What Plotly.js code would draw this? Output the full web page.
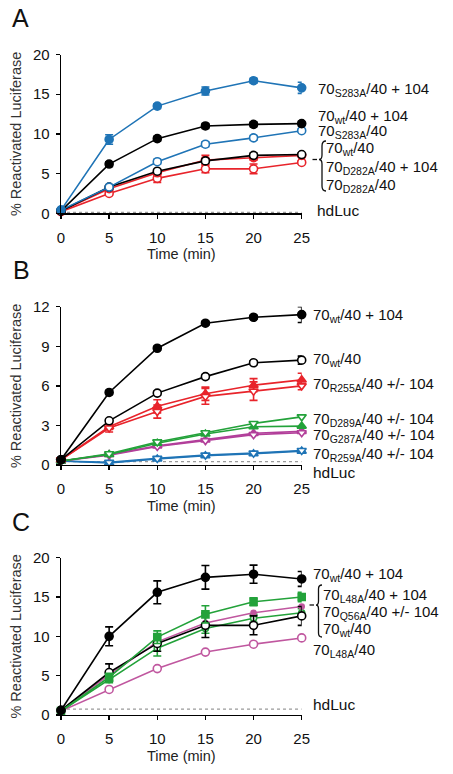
<!DOCTYPE html>
<html>
<head>
<meta charset="utf-8">
<script src="https://cdn.plot.ly/plotly-3.0.1.min.js"></script>
<style>html,body{margin:0;padding:0;background:#fff;}#chart{width:453px;height:774px;}</style>
</head>
<body>
<div id="chart"></div>
<script>
// ---------- data ----------
const time = [0, 5, 10, 15, 20, 25];

// Panel A
const A_s283a_104 = [0.4, 9.3, 13.5, 15.4, 16.7, 15.8];
const A_s283a_104_err = [0.2, 0.6, 0.3, 0.5, 0.3, 0.7];
const A_wt_104 = [0.3, 6.2, 9.4, 11.0, 11.2, 11.3];
const A_wt_104_err = [0.1, 0.3, 0.3, 0.3, 0.3, 0.3];
const A_s283a = [0.4, 3.3, 6.5, 8.7, 9.5, 10.4];
const A_s283a_err = [0.1, 0.2, 0.3, 0.3, 0.3, 0.2];
const A_wt = [0.3, 3.3, 5.3, 6.6, 7.3, 7.4];
const A_wt_err = [0.1, 0.2, 0.2, 0.3, 0.3, 0.2];
const A_d282a_104 = [0.3, 3.1, 5.1, 6.7, 7.0, 7.3];
const A_d282a_104_err = [0.1, 0.2, 0.3, 0.6, 0.3, 0.2];
const A_d282a = [0.2, 2.5, 4.4, 5.6, 5.6, 6.4];
const A_d282a_err = [0.1, 0.2, 0.5, 0.5, 0.6, 0.2];
const A_hdluc = [0.1, 0.1, 0.1, 0.1, 0.1, 0.1];

// Panel B
const B_wt_104 = [0.4, 5.5, 8.85, 10.75, 11.2, 11.4];
const B_wt_104_err = [0.1, 0.15, 0.15, 0.15, 0.15, 0.6];
const B_wt = [0.4, 3.35, 5.45, 6.7, 7.75, 7.95];
const B_wt_err = [0.1, 0.15, 0.15, 0.15, 0.15, 0.3];
const B_r255a_104 = [0.4, 2.9, 4.45, 5.4, 6.05, 6.45];
const B_r255a_104_err = [0.1, 0.2, 0.5, 0.5, 0.5, 0.5];
const B_r255a = [0.4, 2.8, 4.05, 5.2, 5.6, 6.0];
const B_r255a_err = [0.1, 0.3, 0.5, 0.6, 0.7, 0.3];
const B_d289a_104 = [0.3, 0.8, 1.65, 2.35, 2.9, 2.95];
const B_d289a = [0.3, 0.85, 1.75, 2.45, 3.15, 3.65];
const B_g287a_104 = [0.3, 0.8, 1.45, 1.9, 2.4, 2.55];
const B_g287a = [0.3, 0.75, 1.4, 1.85, 2.3, 2.45];
const B_r259a_104 = [0.3, 0.15, 0.45, 0.7, 0.85, 1.05];
const B_r259a = [0.3, 0.2, 0.5, 0.75, 0.9, 1.1];
const B_hdluc = [0.25, 0.25, 0.25, 0.25, 0.25, 0.25];

// Panel C
const C_wt_104 = [0.6, 10.0, 15.6, 17.5, 17.9, 17.3];
const C_wt_104_err = [0.2, 1.2, 1.45, 1.5, 1.15, 0.95];
const C_l48a_104 = [0.5, 4.8, 9.9, 12.8, 14.4, 15.0];
const C_l48a_104_err = [0.2, 0.5, 0.8, 1.1, 0.5, 0.6];
const C_q56a_104 = [0.6, 5.1, 9.3, 11.7, 13.0, 13.8];
const C_q56a = [0.5, 4.5, 8.5, 11.0, 12.3, 13.0];
const C_q56a_err = [0.2, 0.4, 1.0, 0.6, 0.5, 0.5];
const C_wt = [0.6, 5.4, 9.1, 11.4, 11.4, 12.6];
const C_wt_err = [0.2, 1.1, 1.0, 1.55, 1.2, 1.2];
const C_l48a = [0.5, 3.25, 5.9, 8.0, 9.0, 9.8];
const C_hdluc = [0.75, 0.75, 0.75, 0.75, 0.75, 0.75];

const xTicks = [0, 5, 10, 15, 20, 25];
const yTicksAC = [0, 5, 10, 15, 20];
const yTicksB = [0, 3, 6, 9, 12];

// ---------- styles ----------
const W = 453, H = 774;
const px = x => x / W;
const py = y => 1 - y / H;
const BLUE = '#1f74b6', RED = '#e8242b', GREEN = '#23a23a', MAG = '#b23f9a', MAGC = '#c0579f', BLACK = '#000000', GRAY = '#9a9a9a';
const FONT = 'Liberation Sans, Arial, sans-serif';

function tr(xa, ya, y, color, symbol, filled, err, size) {
  const t = {
    x: time, y: y, xaxis: xa, yaxis: ya, type: 'scatter', mode: 'lines+markers',
    cliponaxis: false, showlegend: false,
    line: {color: color, width: 1.6},
    marker: {symbol: symbol, size: size || 8, color: filled ? color : '#ffffff',
             line: {color: color, width: 1.6}}
  };
  if (err) t.error_y = {type: 'data', array: err, visible: true, color: color, thickness: 1.6, width: 4};
  return t;
}
function hd(xa, ya, y) {
  return {x: time, y: y, xaxis: xa, yaxis: ya, type: 'scatter', mode: 'lines', cliponaxis: false,
          showlegend: false, line: {color: GRAY, width: 1.3, dash: 'dot'}};
}

const data = [
  // A
  hd('x', 'y', A_hdluc),
  tr('x', 'y', A_d282a, RED, 'circle', false, A_d282a_err),
  tr('x', 'y', A_d282a_104, RED, 'circle', true, A_d282a_104_err),
  tr('x', 'y', A_wt, BLACK, 'circle', false, A_wt_err),
  tr('x', 'y', A_s283a, BLUE, 'circle', false, A_s283a_err),
  tr('x', 'y', A_wt_104, BLACK, 'circle', true, A_wt_104_err),
  tr('x', 'y', A_s283a_104, BLUE, 'circle', true, A_s283a_104_err),
  // B
  hd('x2', 'y2', B_hdluc),
  tr('x2', 'y2', B_r259a_104, BLUE, 'triangle-up', true),
  tr('x2', 'y2', B_r259a, BLUE, 'triangle-down', false),
  tr('x2', 'y2', B_g287a_104, MAG, 'triangle-up', true),
  tr('x2', 'y2', B_g287a, MAG, 'triangle-down', false),
  tr('x2', 'y2', B_d289a_104, GREEN, 'triangle-up', true),
  tr('x2', 'y2', B_d289a, GREEN, 'triangle-down', false),
  tr('x2', 'y2', B_r255a_104, RED, 'triangle-up', true, B_r255a_104_err),
  tr('x2', 'y2', B_r255a, RED, 'triangle-down', false, B_r255a_err),
  tr('x2', 'y2', B_wt, BLACK, 'circle', false, B_wt_err),
  tr('x2', 'y2', B_wt_104, BLACK, 'circle', true, B_wt_104_err),
  // C
  hd('x3', 'y3', C_hdluc),
  tr('x3', 'y3', C_l48a, MAGC, 'circle', false),
  tr('x3', 'y3', C_q56a, GREEN, 'circle', false, C_q56a_err, 6),
  tr('x3', 'y3', C_q56a_104, MAGC, 'circle', true, null, 5),
  tr('x3', 'y3', C_wt, BLACK, 'circle', false, C_wt_err),
  tr('x3', 'y3', C_l48a_104, GREEN, 'square', true, C_l48a_104_err, 7),
  tr('x3', 'y3', C_wt_104, BLACK, 'circle', true, C_wt_104_err)
];

function xax(anchor) {
  return {
    domain: [px(61), px(301.7)], anchor: anchor, range: [0, 25],
    tickvals: xTicks, ticktext: xTicks.map(String),
    showline: true, linecolor: '#000', linewidth: 1.3, ticks: 'outside', ticklen: 4, tickwidth: 1.3, tickcolor: '#000',
    ticklabelstandoff: 6,
    showgrid: false, zeroline: false, fixedrange: true,
    tickfont: {family: FONT, size: 15, color: '#111'},
    title: {text: 'Time (min)', standoff: 4, font: {family: FONT, size: 14.5, color: '#222'}}
  };
}
function yax(anchor, y0px, ytopPx, maxv, ticks) {
  return {
    domain: [py(y0px), py(ytopPx)], anchor: anchor, range: [0, maxv],
    tickvals: ticks, ticktext: ticks.map(String),
    showline: true, linecolor: '#000', linewidth: 1.3, ticks: 'outside', ticklen: 4, tickwidth: 1.3, tickcolor: '#000',
    ticklabelstandoff: 3,
    showgrid: false, zeroline: false, fixedrange: true,
    tickfont: {family: FONT, size: 15, color: '#111'},
    title: {text: '% Reactivated Luciferase', standoff: 8, font: {family: FONT, size: 14.5, color: '#333'}}
  };
}

function lab(x, y, text, size) {
  return {xref: 'paper', yref: 'paper', x: px(x), y: py(y), xanchor: 'left', yanchor: 'middle',
          text: text, showarrow: false, font: {family: FONT, size: size || 15, color: '#111'}};
}

const annotations = [
  lab(10, 18, 'A', 25), lab(11, 270, 'B', 25), lab(10, 522, 'C', 25),
  // A
  lab(316, 90, '70<sub>S283A</sub>/40 + 104'),
  lab(316, 116, '70<sub>wt</sub>/40 + 104'),
  lab(316, 132, '70<sub>S283A</sub>/40'),
  lab(324, 149, '70<sub>wt</sub>/40'),
  lab(324, 167, '70<sub>D282A</sub>/40 + 104'),
  lab(324, 185, '70<sub>D282A</sub>/40'),
  lab(315, 211, 'hdLuc', 15.5),
  // B
  lab(311, 315, '70<sub>wt</sub>/40 + 104'),
  lab(311, 360, '70<sub>wt</sub>/40'),
  lab(311, 385, '70<sub>R255A</sub>/40 +/- 104'),
  lab(311, 419, '70<sub>D289A</sub>/40 +/- 104'),
  lab(311, 435, '70<sub>G287A</sub>/40 +/- 104'),
  lab(311, 454, '70<sub>R259A</sub>/40 +/- 104'),
  lab(311, 472, 'hdLuc', 15.5),
  // C
  lab(311, 574, '70<sub>wt</sub>/40 + 104'),
  lab(321, 595, '70<sub>L48A</sub>/40 + 104'),
  lab(321, 612, '70<sub>Q56A</sub>/40 +/- 104'),
  lab(321, 629, '70<sub>wt</sub>/40'),
  lab(311, 650, '70<sub>L48A</sub>/40'),
  lab(311, 704, 'hdLuc', 15.5)
];

function P(x, y) { return px(x).toFixed(5) + ',' + py(y).toFixed(5); }
const shapes = [
  // bracket A
  {type: 'path', xref: 'paper', yref: 'paper', line: {color: '#111', width: 1.3},
   path: 'M' + P(326, 141) + ' Q' + P(322, 141) + ' ' + P(322, 146) + ' L' + P(322, 155) + ' Q' + P(322, 159.5) + ' ' + P(319, 159.5) +
         ' Q' + P(322, 159.5) + ' ' + P(322, 164) + ' L' + P(322, 186) + ' Q' + P(322, 191) + ' ' + P(326, 191)},
  {type: 'line', xref: 'paper', yref: 'paper', x0: px(312.5), x1: px(317), y0: py(159.5), y1: py(159.5), line: {color: '#111', width: 1.3}},
  // bracket C
  {type: 'path', xref: 'paper', yref: 'paper', line: {color: '#111', width: 1.3},
   path: 'M' + P(322, 585) + ' Q' + P(318.5, 585) + ' ' + P(318.5, 589) + ' L' + P(318.5, 601) + ' Q' + P(318.5, 605) + ' ' + P(316, 605) +
         ' Q' + P(318.5, 605) + ' ' + P(318.5, 609) + ' L' + P(318.5, 633) + ' Q' + P(318.5, 637) + ' ' + P(322, 637)},
  {type: 'line', xref: 'paper', yref: 'paper', x0: px(309.5), x1: px(314), y0: py(605), y1: py(605), line: {color: '#111', width: 1.3}}
];

const layout = {
  width: W, height: H, margin: {l: 0, r: 0, t: 0, b: 0},
  paper_bgcolor: '#fff', plot_bgcolor: 'rgba(0,0,0,0)',
  font: {family: FONT, size: 14, color: '#111'},
  showlegend: false,
  xaxis: xax('y'), yaxis: yax('x', 213.3, 54.5, 20, yTicksAC),
  xaxis2: xax('y2'), yaxis2: yax('x2', 465, 306.7, 12, yTicksB),
  xaxis3: xax('y3'), yaxis3: yax('x3', 715, 557.7, 20, yTicksAC),
  annotations: annotations, shapes: shapes
};

Plotly.newPlot('chart', data, layout, {staticPlot: true, displayModeBar: false});
</script>
</body>
</html>
